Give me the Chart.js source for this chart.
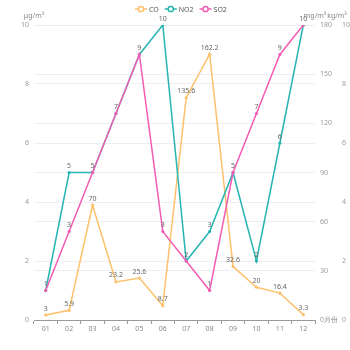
<!DOCTYPE html>
<html>
<head>
<meta charset="utf-8">
<script src="https://cdn.jsdelivr.net/npm/chart.js@4/dist/chart.umd.min.js"></script>
<style>
  html, body { margin: 0; padding: 0; background: #fff; }
</style>
</head>
<body>
<canvas id="airChart" width="350" height="350"></canvas>
<script>
// monthly readings
var months = ['01', '02', '03', '04', '05', '06', '07', '08', '09', '10', '11', '12'];
var coValues = [3, 5.9, 70, 23.2, 25.6, 8.7, 135.6, 162.2, 32.6, 20, 16.4, 3.3];
var no2Values = [1, 5, 5, 7, 9, 10, 2, 3, 5, 2, 6, 10];
var so2Values = [1, 3, 5, 7, 9, 3, 2, 1, 5, 7, 9, 10];

var seriesNames = ['CO', 'NO2', 'SO2'];
var seriesColors = ['#fdc06b', '#26b4b3', '#f35cb3'];

var FONT = '"Noto Sans", "DejaVu Sans", sans-serif';
var gridColor = '#eceef4';

// value labels, legend and unit names
var extras = {
    id: 'extras',
    afterDatasetsDraw: function (chart) {
        var ctx = chart.ctx;
        var drawn = {};
        ctx.save();
        ctx.font = '7px ' + FONT;
        ctx.fillStyle = '#666';
        ctx.textAlign = 'center';
        ctx.textBaseline = 'bottom';
        chart.data.datasets.forEach(function (ds, i) {
            var meta = chart.getDatasetMeta(i);
            meta.data.forEach(function (pt, j) {
                // skip a label that lands right on top of an identical one
                var key = Math.round(pt.x) + ':' + Math.round(pt.y) + ':' + ds.data[j];
                if (drawn[key]) return;
                drawn[key] = true;
                ctx.fillText(String(ds.data[j]), pt.x, pt.y - 3);
            });
        });
        ctx.restore();
    },
    afterDraw: function (chart) {
        var ctx = chart.ctx;
        var area = chart.chartArea;
        ctx.save();
        ctx.font = '7px ' + FONT;

        // legend
        var x = 135, y = 9;
        ctx.textBaseline = 'middle';
        ctx.textAlign = 'left';
        seriesNames.forEach(function (name, i) {
            ctx.strokeStyle = seriesColors[i];
            ctx.lineWidth = 1.5;
            ctx.beginPath();
            ctx.moveTo(x, y);
            ctx.lineTo(x + 12, y);
            ctx.stroke();
            ctx.beginPath();
            ctx.arc(x + 6, y, 2.6, 0, Math.PI * 2);
            ctx.fillStyle = '#fff';
            ctx.fill();
            ctx.stroke();
            ctx.fillStyle = '#555';
            ctx.fillText(name, x + 14, y + 0.5);
            x += 14 + ctx.measureText(name).width + 6;
        });

        // axis units
        ctx.fillStyle = '#888';
        ctx.textAlign = 'center';
        ctx.textBaseline = 'middle';
        ctx.fillText('μg/m³', chart.scales.y.right, 16);
        ctx.fillText('mg/m³', chart.scales.y1.left, 16);
        ctx.fillText('kg/m³', chart.scales.y2.left, 16);
        ctx.textAlign = 'left';
        ctx.fillText('月份', area.right + 9, area.bottom);
        ctx.restore();
    }
};

function lineSet(label, values, color, axis, order) {
    return {
        label: label,
        data: values,
        yAxisID: axis,
        order: order,
        borderColor: color,
        backgroundColor: color,
        borderWidth: 1.5,
        pointRadius: 1.6,
        pointBorderWidth: 0,
        tension: 0
    };
}

var ctx = document.getElementById('airChart');
var airChart = new Chart(ctx, {
    type: 'line',
    data: {
        labels: months,
        datasets: [
            lineSet(seriesNames[0], coValues, seriesColors[0], 'y1', 3),
            lineSet(seriesNames[1], no2Values, seriesColors[1], 'y', 2),
            lineSet(seriesNames[2], so2Values, seriesColors[2], 'y2', 1)
        ]
    },
    options: {
        responsive: false,
        animation: false,
        layout: { padding: { top: 25, bottom: 16, left: 0, right: 0 } },
        plugins: {
            legend: { display: false },
            tooltip: { enabled: false }
        },
        scales: {
            x: {
                offset: true,
                grid: { display: true, drawOnChartArea: false, offset: true, tickLength: 4, color: '#999' },
                border: { color: '#999' },
                ticks: { font: { size: 7, family: FONT }, color: '#888', padding: 1, maxRotation: 0 },
                afterFit: function (s) { s.height = 14; }
            },
            y: {
                position: 'left',
                min: 0, max: 10,
                grid: { color: gridColor, drawTicks: false },
                border: { display: false },
                ticks: { stepSize: 2, font: { size: 7, family: FONT }, color: '#999', padding: 5 },
                afterFit: function (s) { s.width = 34; }
            },
            y1: {
                position: 'right',
                weight: 0,
                min: 0, max: 180,
                grid: { color: gridColor, drawTicks: false },
                border: { display: false },
                ticks: { stepSize: 30, font: { size: 7, family: FONT }, color: '#999', padding: 5 },
                afterFit: function (s) { s.width = 22; }
            },
            y2: {
                position: 'right',
                weight: 1,
                min: 0, max: 10,
                grid: { display: false, drawTicks: false },
                border: { display: false },
                ticks: { stepSize: 2, font: { size: 7, family: FONT }, color: '#999', padding: 5 },
                afterFit: function (s) { s.width = 13; }
            }
        }
    },
    plugins: [extras]
});
</script>
</body>
</html>
